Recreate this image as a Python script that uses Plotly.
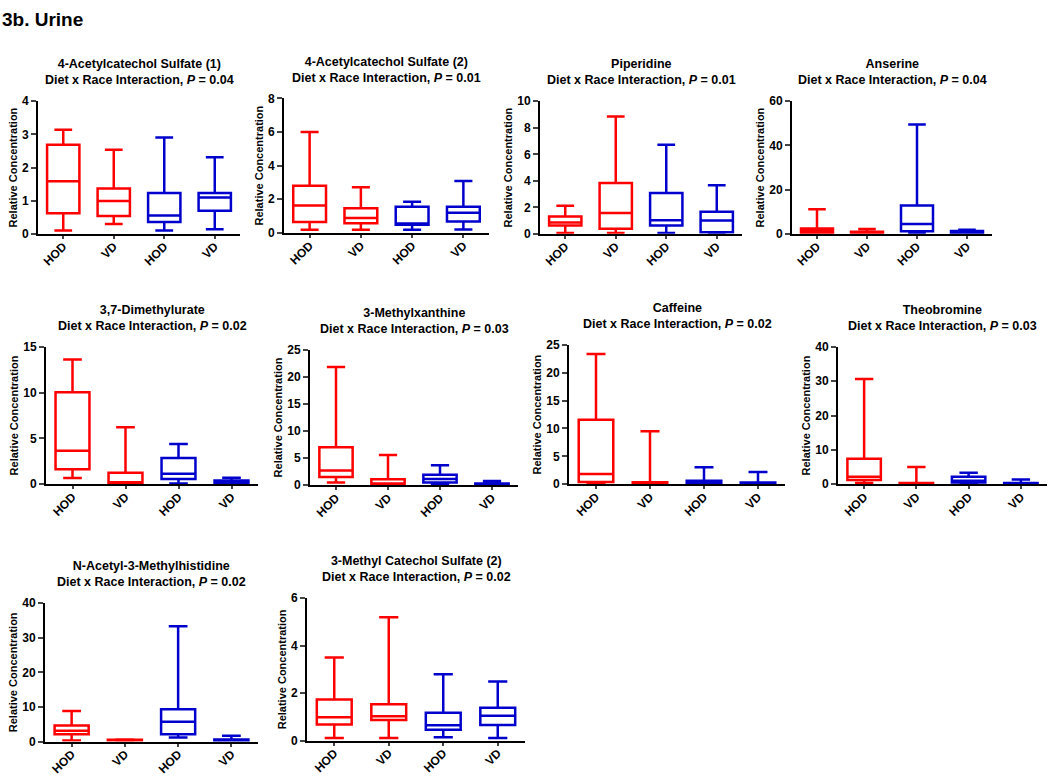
import plotly.graph_objects as go

W, H = 1050, 779

# ---- data ----
metabolites = ['4-Acetylcatechol Sulfate (1)', '4-Acetylcatechol Sulfate (2)', 'Piperidine', 'Anserine',
               '3,7-Dimethylurate', '3-Methylxanthine', 'Caffeine', 'Theobromine',
               'N-Acetyl-3-Methylhistidine', '3-Methyl Catechol Sulfate (2)']
p_values = ['0.04', '0.01', '0.01', '0.04', '0.02', '0.03', '0.02', '0.03', '0.02', '0.02']
y_max = [4, 8, 10, 60, 15, 25, 25, 40, 40, 6]
y_dtick = [1, 2, 2, 20, 5, 5, 5, 10, 10, 2]
groups = ['HOD', 'VD', 'HOD', 'VD']

# per panel, per group (red HOD, red VD, blue HOD, blue VD)
mins = [[0.10, 0.30, 0.10, 0.14], [0.18, 0.18, 0.18, 0.20], [0.07, 0.07, 0.07, 0.07], [0.0, 0.05, 0.3, 0.2],
        [0.68, 0.03, 0.07, 0.03], [0.5, 0.05, 0.12, 0.02], [0.1, 0.05, 0.05, 0.02], [0.4, 0.02, 0.2, 0.02],
        [0.3, 0.2, 1.15, 0.1], [0.11, 0.11, 0.14, 0.11]]
q1s = [[0.62, 0.54, 0.36, 0.70], [0.64, 0.57, 0.48, 0.68], [0.62, 0.39, 0.62, 0.12], [0.3, 0.15, 1.2, 0.45],
       [1.65, 0.1, 0.57, 0.1], [1.5, 0.12, 0.5, 0.06], [0.41, 0.1, 0.1, 0.05], [1.25, 0.1, 0.48, 0.1],
       [2.1, 0.3, 2.1, 0.25], [0.68, 0.87, 0.46, 0.66]]
medians = [[1.59, 0.99, 0.55, 1.10], [1.62, 0.88, 0.55, 1.20], [0.86, 1.58, 1.03, 1.00], [1.3, 0.45, 4.5, 0.9],
           [3.65, 0.2, 1.15, 0.2], [2.72, 0.3, 1.15, 0.12], [1.83, 0.18, 0.24, 0.1], [2.2, 0.2, 1.0, 0.2],
           [3.1, 0.4, 5.7, 0.4], [0.98, 1.02, 0.65, 1.05]]
q3s = [[2.69, 1.37, 1.23, 1.23], [2.80, 1.46, 1.56, 1.56], [1.30, 3.84, 3.08, 1.67], [2.4, 0.9, 12.8, 1.3],
       [10.05, 1.25, 2.86, 0.4], [7.0, 1.1, 1.94, 0.3], [11.56, 0.35, 0.65, 0.3], [7.4, 0.4, 2.2, 0.4],
       [4.65, 0.55, 9.3, 0.6], [1.73, 1.53, 1.17, 1.38]]
maxs = [[3.14, 2.54, 2.91, 2.31], [6.0, 2.71, 1.85, 3.08], [2.12, 8.85, 6.72, 3.67], [11.1, 2.2, 49.5, 1.8],
        [13.6, 6.23, 4.4, 0.72], [21.8, 5.6, 3.7, 0.8], [23.35, 9.5, 3.07, 2.2], [30.6, 5.05, 3.35, 1.35],
        [8.8, 0.6, 33.3, 1.7], [3.5, 5.2, 2.79, 2.49]]

# ---- layout (pixel boxes of each plot area: x0, x1, y0, y1) ----
boxes = [(38, 240, 96, 231), (284, 489, 93, 230), (540, 742, 96, 231), (792, 992, 96, 231),
         (46, 258, 346, 486), (310, 518, 349, 487), (569, 785, 344, 486), (838, 1047, 346, 486),
         (45, 258, 607, 748), (307, 525, 602, 747)]
colors = ['#FF0000', '#FF0000', '#0000CD', '#0000CD']
FONT = 'Liberation Sans, Arial, sans-serif'

fig = go.Figure()
layout = dict(width=W, height=H, margin=dict(l=0, r=0, t=0, b=0), paper_bgcolor='white',
              plot_bgcolor='white', showlegend=False, boxmode='overlay',
              font=dict(family=FONT, color='black', weight='bold'))
annotations = []

for i, (x0, x1, y0, y1) in enumerate(boxes):
    n = '' if i == 0 else str(i + 1)
    for j in range(4):
        fig.add_trace(go.Box(x=[j], q1=[q1s[i][j]], median=[medians[i][j]], q3=[q3s[i][j]],
                             lowerfence=[mins[i][j]], upperfence=[maxs[i][j]],
                             xaxis='x' + n, yaxis='y' + n, width=0.64, whiskerwidth=0.55,
                             line=dict(color=colors[j], width=2.5), fillcolor='rgba(255,255,255,0)',
                             boxpoints=False, name=groups[j]))
    layout['xaxis' + n] = dict(domain=[x0 / W, x1 / W], anchor='y' + n, range=[-0.5, 3.5],
                               tickmode='array', tickvals=[0, 1, 2, 3], ticktext=groups,
                               tickangle=-45, ticks='outside', ticklen=3, tickwidth=2,
                               ticklabelstandoff=-4,
                               showline=True, linewidth=2, linecolor='black', showgrid=False,
                               zeroline=False, tickfont=dict(size=12, weight='bold'))
    layout['yaxis' + n] = dict(domain=[1 - y1 / H, 1 - y0 / H], anchor='x' + n, range=[0, y_max[i]],
                               tickmode='linear', tick0=0, dtick=y_dtick[i], ticks='outside',
                               ticklen=5, tickwidth=2, showline=True, linewidth=2, linecolor='black',
                               showgrid=False, zeroline=False, tickfont=dict(size=12, weight='bold'),
                               title=dict(text='Relative Concentration', standoff=2,
                                          font=dict(size=11, weight='bold')))
    annotations.append(dict(x=(x0 + x1) / 2 / W, y=1 - (y0 - 12) / H, xref='paper', yref='paper',
                            xanchor='center', yanchor='bottom', showarrow=False,
                            text=metabolites[i] + '<br>Diet x Race Interaction, <i>P</i> = ' + p_values[i],
                            font=dict(size=12.5, weight='bold')))

annotations.append(dict(x=0, y=1, xref='paper', yref='paper', xanchor='left', yanchor='top',
                        showarrow=False, text='3b. Urine', font=dict(size=19, weight='bold')))
layout['annotations'] = annotations
fig.update_layout(layout)
fig.write_html('out.html', config={'displayModeBar': False},
               post_script="document.body.style.margin='0px';")
